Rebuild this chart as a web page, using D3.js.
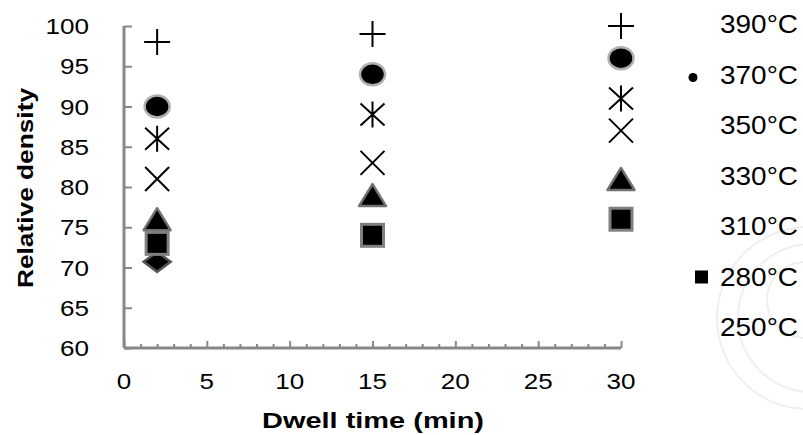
<!DOCTYPE html>
<html>
<head>
<meta charset="utf-8">
<script src="https://cdn.jsdelivr.net/npm/d3@7"></script>
<style>
  body { margin: 0; background: #fff; }
  text { font-family: "Liberation Sans", Arial, sans-serif; fill: #000; }
</style>
</head>
<body>
<div id="chart"></div>
<script>
// dwell time (min) and relative density per temperature
var times = [2, 15, 30];
var d390 = [98, 99, 100];
var d370 = [90, 94, 96];
var d350 = [86, 89, 91];
var d330 = [81, 83, 87];
var d310 = [76, 79, 81];
var d280 = [73, 74, 76];
var d250 = [70.7, null, null];

var legendLabels = ["390°C", "370°C", "350°C", "330°C", "310°C", "280°C", "250°C"];
var yTicks = [60, 65, 70, 75, 80, 85, 90, 95, 100];
var xTicks = [0, 5, 10, 15, 20, 25, 30];

var W = 803, H = 435;

var svg = d3.select("#chart").append("svg")
    .attr("width", W)
    .attr("height", H);

var x = d3.scaleLinear().domain([0, 30]).range([124, 621]);
var y = d3.scaleLinear().domain([60, 100]).range([348, 26]);

// faint watermark arcs bottom right
var marks = svg.append("g").attr("fill", "none").attr("stroke", "#efefef").attr("stroke-width", 2);
marks.append("circle").attr("cx", 808).attr("cy", 318).attr("r", 91);
marks.append("circle").attr("cx", 812).attr("cy", 318).attr("r", 74);
marks.append("circle").attr("cx", 805).attr("cy", 300).attr("r", 38);

// axes
var axisCol = "#888";
var xAxis = svg.append("g")
    .attr("transform", "translate(0,348)")
    .call(d3.axisTop(x).ticks(30).tickSize(4).tickFormat(""));
xAxis.selectAll("line").attr("stroke", axisCol).attr("stroke-width", 2);
xAxis.selectAll("line").filter(function(d){ return d % 5 === 0; }).attr("y2", -7);
xAxis.select(".domain").attr("stroke", axisCol).attr("stroke-width", 3)
    .attr("d", "M" + x(0) + ",0H" + x(30));

var yAxis = svg.append("g")
    .attr("transform", "translate(124,0)")
    .call(d3.axisRight(y).tickValues(yTicks).tickSize(8).tickFormat(""));
yAxis.selectAll("line").attr("stroke", axisCol).attr("stroke-width", 2);
yAxis.select(".domain").attr("stroke", axisCol).attr("stroke-width", 3)
    .attr("d", "M0," + y(100) + "V" + y(60));

// tick labels
svg.selectAll(".ylab").data(yTicks).enter().append("text")
    .attr("class", "ylab")
    .attr("x", 89)
    .attr("y", function(d){ return y(d) + 8; })
    .attr("text-anchor", "end")
    .style("font-size", "22px")
    .attr("textLength", function(d){ return String(d).length * 14.5; })
    .attr("lengthAdjust", "spacingAndGlyphs")
    .text(function(d){ return d; });

svg.selectAll(".xlab").data(xTicks).enter().append("text")
    .attr("class", "xlab")
    .attr("x", function(d){ return x(d); })
    .attr("y", 389)
    .attr("text-anchor", "middle")
    .style("font-size", "22px")
    .attr("textLength", function(d){ return String(d).length * 14.5; })
    .attr("lengthAdjust", "spacingAndGlyphs")
    .text(function(d){ return d; });

// axis titles
svg.append("text")
    .attr("x", 373).attr("y", 428)
    .attr("text-anchor", "middle")
    .style("font-size", "22px").style("font-weight", "bold")
    .attr("textLength", 222).attr("lengthAdjust", "spacingAndGlyphs")
    .text("Dwell time (min)");

svg.append("text")
    .attr("transform", "translate(33,188) rotate(-90)")
    .attr("text-anchor", "middle")
    .style("font-size", "22px").style("font-weight", "bold")
    .attr("textLength", 200).attr("lengthAdjust", "spacingAndGlyphs")
    .text("Relative density");

function pts(vals) {
  return times.map(function(t, i){ return {t: t, v: vals[i]}; })
              .filter(function(d){ return d.v != null; });
}

// 250 diamonds
svg.selectAll(".s250").data(pts(d250)).enter().append("path")
    .attr("d", "M-13.5,0L0,-10L13.5,0L0,10Z")
    .attr("transform", function(d){ return "translate(" + x(d.t) + "," + y(d.v) + ")"; })
    .attr("fill", "#000").attr("stroke", "#555").attr("stroke-width", 2.5);

// 310 triangles
svg.selectAll(".s310").data(pts(d310)).enter().append("path")
    .attr("d", "M0,-11L13.5,11L-13.5,11Z")
    .attr("transform", function(d){ return "translate(" + x(d.t) + "," + y(d.v) + ")"; })
    .attr("fill", "#000").attr("stroke", "#707070").attr("stroke-width", 2.5)
    .attr("stroke-linejoin", "round");

// 280 squares
svg.selectAll(".s280").data(pts(d280)).enter().append("rect")
    .attr("x", function(d){ return x(d.t) - 11; })
    .attr("y", function(d){ return y(d.v) - 11; })
    .attr("width", 22).attr("height", 22)
    .attr("fill", "#000").attr("stroke", "#808080").attr("stroke-width", 3);

// 330 crosses
svg.selectAll(".s330").data(pts(d330)).enter().append("path")
    .attr("d", "M-12,-12L12,12M-12,12L12,-12")
    .attr("transform", function(d){ return "translate(" + x(d.t) + "," + y(d.v) + ")"; })
    .attr("stroke", "#000").attr("stroke-width", 2).attr("fill", "none");

// 350 asterisks
svg.selectAll(".s350").data(pts(d350)).enter().append("path")
    .attr("d", "M0,-13V13M-12,-11L12,11M-12,11L12,-11")
    .attr("transform", function(d){ return "translate(" + x(d.t) + "," + y(d.v) + ")"; })
    .attr("stroke", "#000").attr("stroke-width", 2).attr("fill", "none");

// 370 circles
svg.selectAll(".s370").data(pts(d370)).enter().append("ellipse")
    .attr("cx", function(d){ return x(d.t); })
    .attr("cy", function(d){ return y(d.v); })
    .attr("rx", 12.5).attr("ry", 11)
    .attr("fill", "#000").attr("stroke", "#b0b0b0").attr("stroke-width", 2.5);

// 390 plus
svg.selectAll(".s390").data(pts(d390)).enter().append("path")
    .attr("d", "M-13,0H13M0,-13V13")
    .attr("transform", function(d){ return "translate(" + x(d.t) + "," + y(d.v) + ")"; })
    .attr("stroke", "#000").attr("stroke-width", 2).attr("fill", "none");

// legend
var leg = svg.append("g");
leg.selectAll("text").data(legendLabels).enter().append("text")
    .attr("x", 720)
    .attr("y", function(d, i){ return 33 + i * 50.5; })
    .style("font-size", "25px")
    .attr("textLength", 78).attr("lengthAdjust", "spacingAndGlyphs")
    .text(function(d){ return d; });

leg.append("circle")
    .attr("cx", 693).attr("cy", 33 + 50.5 - 6).attr("r", 4.5)
    .attr("fill", "#000");
leg.append("rect")
    .attr("x", 695).attr("y", 33 + 5 * 50.5 - 15).attr("width", 13).attr("height", 13)
    .attr("fill", "#000");
</script>
</body>
</html>
